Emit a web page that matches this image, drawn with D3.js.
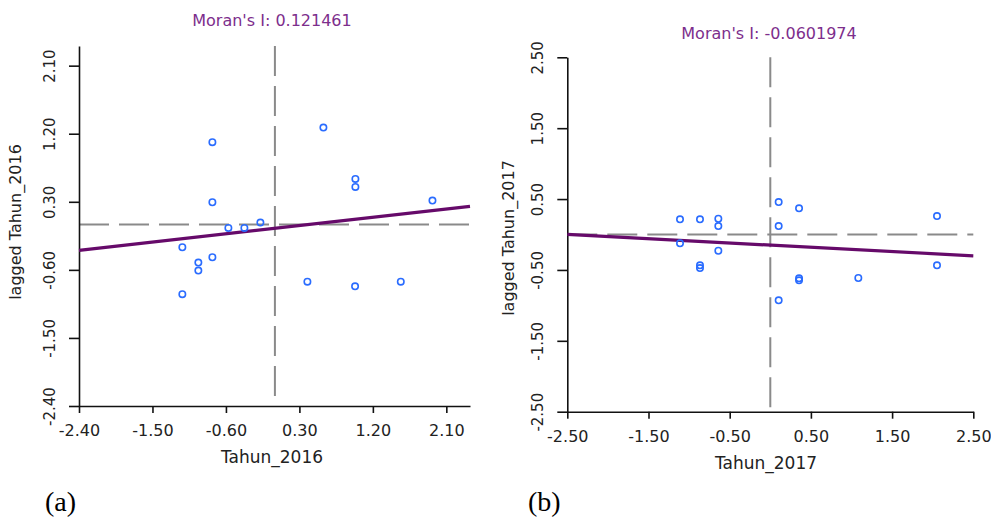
<!DOCTYPE html>
<html>
<head>
<meta charset="utf-8">
<script src="https://cdn.jsdelivr.net/npm/d3@7"></script>
<style>
  body { margin: 0; background: #fff; }
  svg { display: block; }
  text { font-family: "DejaVu Sans", sans-serif; }
</style>
</head>
<body>
<svg id="mainsvg" width="991" height="517"></svg>
<script>
// panel (a) - Tahun_2016
const ticksA = [-2.40, -1.50, -0.60, 0.30, 1.20, 2.10];
const xA = [-0.766, 0.594, 0.986, 0.986, -0.766, 1.930, -0.570, -0.374, -0.178,
  -1.134, -0.938, -0.938, -0.766, -1.134, 0.398, 0.982, 1.542];
const yA = [1.088, 1.281, 0.603, 0.497, 0.294, 0.316, -0.046, -0.046, 0.025,
  -0.301, -0.504, -0.610, -0.433, -0.922, -0.756, -0.817, -0.756];
const moranA = 0.121461;
const interceptA = -0.05;

// panel (b) - Tahun_2017
const ticksB = [-2.50, -1.50, -0.50, 0.50, 1.50, 2.50];
const xB = [-1.112, -0.866, -0.640, -0.640, 0.103, 0.354, 0.103, 2.053, -1.112,
  -0.640, -0.866, -0.866, 0.354, 0.354, 1.084, 2.053, 0.103];
const yB = [0.214, 0.214, 0.222, 0.119, 0.458, 0.369, 0.119, 0.260, -0.125,
  -0.229, -0.435, -0.473, -0.618, -0.647, -0.614, -0.435, -0.929];
const moranB = -0.0601974;
const interceptB = -0.15;

const fmt = d => d.toFixed(2);
const svg = d3.select('#mainsvg');

const drawPanel = cfg => {
  const xScale = d3.scaleLinear().domain(cfg.xDomain).range(cfg.xRange);
  const yScale = d3.scaleLinear().domain(cfg.yDomain).range(cfg.yRange);
  const g = svg.append('g');

  // title
  g.append('text').text(cfg.title)
    .attr('x', cfg.titleX).attr('y', cfg.titleY)
    .attr('text-anchor', 'middle')
    .attr('font-size', 16)
    .attr('fill', '#7d2e8c');

  // reference lines at 0
  g.append('line')
    .attr('x1', xScale(0)).attr('x2', xScale(0))
    .attr('y1', cfg.yRange[1]).attr('y2', cfg.yRange[0])
    .attr('stroke', '#8a8a8a').attr('stroke-width', 2)
    .attr('stroke-dasharray', '30,10');
  g.append('line')
    .attr('x1', cfg.xRange[0]).attr('x2', cfg.xRange[1])
    .attr('y1', yScale(0)).attr('y2', yScale(0))
    .attr('stroke', '#8a8a8a').attr('stroke-width', 2)
    .attr('stroke-dasharray', '30,10');

  // axes
  const xAxis = d3.axisBottom(xScale).tickValues(cfg.ticks).tickFormat(fmt)
    .tickSize(7).tickSizeOuter(0);
  const gx = g.append('g')
    .attr('transform', `translate(0, ${cfg.yRange[0]})`)
    .call(xAxis);
  gx.selectAll('text').attr('dy', null).attr('y', 30)
    .attr('font-size', 16).attr('fill', '#222');

  const yAxis = d3.axisLeft(yScale).tickValues(cfg.ticks).tickFormat(fmt)
    .tickSize(10).tickSizeOuter(0);
  const gy = g.append('g')
    .attr('transform', `translate(${cfg.xRange[0]}, 0)`)
    .call(yAxis);
  gy.selectAll('text')
    .attr('x', null).attr('dy', null)
    .attr('transform', 'translate(-24, 0) rotate(-90)')
    .attr('text-anchor', 'middle')
    .attr('font-size', 15).attr('fill', '#222');
  g.selectAll('.domain, .tick line').attr('stroke', '#111').attr('stroke-width', 1.6);

  // regression line
  const lineData = cfg.xDomain.map(x => [x, cfg.intercept + cfg.slope * x]);
  g.append('path')
    .datum(lineData)
    .attr('d', d3.line().x(d => xScale(d[0])).y(d => yScale(d[1])))
    .attr('fill', 'none')
    .attr('stroke', '#660a6a')
    .attr('stroke-width', 3.2);

  // points
  g.selectAll('circle.pt')
    .data(cfg.xs.map((x, i) => ({ x, y: cfg.ys[i] })))
    .enter().append('circle')
    .attr('class', 'pt')
    .attr('cx', d => xScale(d.x))
    .attr('cy', d => yScale(d.y))
    .attr('r', 3.2)
    .attr('fill', 'none')
    .attr('stroke', '#2a6cff')
    .attr('stroke-width', 1.6);

  // axis titles
  g.append('text').text(cfg.xLabel)
    .attr('x', cfg.xLabelX).attr('y', cfg.yRange[0] + 57)
    .attr('text-anchor', 'middle').attr('font-size', 17).attr('fill', '#222');
  g.append('text').text(cfg.yLabel)
    .attr('transform', `translate(${cfg.yLabelX}, ${cfg.yLabelY}) rotate(-90)`)
    .attr('text-anchor', 'middle').attr('font-size', 16).attr('fill', '#222');

  // panel tag
  g.append('text').text(cfg.tag)
    .attr('x', cfg.tagX).attr('y', 511)
    .style('font-family', '"Liberation Serif", "Times New Roman", serif')
    .attr('font-size', 28).attr('fill', '#000');
};

drawPanel({
  title: "Moran's I: " + moranA, titleX: 272, titleY: 26,
  xDomain: [-2.4, 2.39], yDomain: [-2.4, 2.36],
  xRange: [79, 470], yRange: [406, 46],
  ticks: ticksA, xs: xA, ys: yA,
  slope: moranA, intercept: interceptA,
  xLabel: 'Tahun_2016', xLabelX: 272,
  yLabel: 'lagged Tahun_2016', yLabelX: 21, yLabelY: 222,
  tag: '(a)', tagX: 45
});

drawPanel({
  title: "Moran's I: " + moranB, titleX: 769, titleY: 39,
  xDomain: [-2.5, 2.5], yDomain: [-2.5, 2.5],
  xRange: [567.3, 973.3], yRange: [411.7, 57.3],
  ticks: ticksB, xs: xB, ys: yB,
  slope: moranB, intercept: interceptB,
  xLabel: 'Tahun_2017', xLabelX: 766,
  yLabel: 'lagged Tahun_2017', yLabelX: 514, yLabelY: 238,
  tag: '(b)', tagX: 528
});
</script>
</body>
</html>
